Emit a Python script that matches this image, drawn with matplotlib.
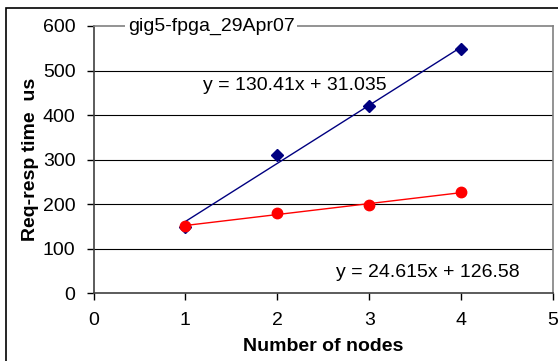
import numpy as np
import matplotlib
matplotlib.use("Agg")
import matplotlib.pyplot as plt
from matplotlib.patches import Rectangle

plt.rcParams["font.family"] = ["Liberation Sans", "DejaVu Sans"]

# ---------- data ------------------------------------------------------------
nodes = [1, 2, 3, 4]
fpga_us = [150.2, 310, 420, 548]      # navy diamonds
other_us = [151, 181, 198.5, 227]     # red circles
fpga_eq = "y = 130.41x + 31.035"
other_eq = "y = 24.615x + 126.58"
chart_title = "gig5-fpga_29Apr07"
x_ticks = [0, 1, 2, 3, 4, 5]
y_ticks = [0, 100, 200, 300, 400, 500, 600]

NAVY = "#000080"
RED = "#ff0000"
FS = 14

fig = plt.figure(figsize=(5.58, 3.61), dpi=100)
ax = fig.add_axes([0.1676, 0.187, 0.8235, 0.741])

# outer chart frame (clipped by the picture at right / bottom)
top = (361 - 8) / 361
fig.patches.append(Rectangle((6 / 558, -0.2), 2.0, top + 0.2,
                             transform=fig.transFigure, fill=False,
                             edgecolor="black", lw=1.2, zorder=0))

# gridlines
for v in y_ticks[1:-1]:
    ax.axhline(v, color="black", lw=0.8, zorder=1)

# trendlines
xs = np.array([nodes[0], nodes[-1]])
for ys, col in [(fpga_us, NAVY), (other_us, RED)]:
    k, b = np.polyfit(nodes, ys, 1)
    ax.plot(xs, k * xs + b, color=col, lw=1.0, zorder=2)

ax.plot(nodes, fpga_us, ls="none", marker="D", ms=6, color=NAVY, zorder=3)
ax.plot(nodes, other_us, ls="none", marker="o", ms=7.5, color=RED, zorder=4)

ax.set_xlim(0, 5)
ax.set_ylim(0, 600)
ax.set_xticks(x_ticks)
ax.set_yticks(y_ticks)
ax.tick_params(direction="out", length=5, width=1, labelsize=FS, pad=8)
ax.tick_params(axis="x", pad=8)

for s in ["top", "right"]:
    ax.spines[s].set_color("#808080")
    ax.spines[s].set_linewidth(1.2)
for s in ["left", "bottom"]:
    ax.spines[s].set_color("#404040")
    ax.spines[s].set_linewidth(1.2)

ax.set_xlabel("Number of nodes", fontsize=FS, fontweight="bold", labelpad=7)
ax.set_ylabel("Req-resp time  us", fontsize=FS, fontweight="bold", labelpad=3)

ax.text(0.075, 1.0, chart_title, transform=ax.transAxes, fontsize=FS,
        ha="left", va="center", zorder=5,
        bbox=dict(facecolor="white", edgecolor="none", pad=2))
ax.text(0.4385, 0.779, fpga_eq, transform=ax.transAxes, fontsize=FS,
        ha="center", va="center")
ax.text(0.728, 0.08, other_eq, transform=ax.transAxes, fontsize=FS,
        ha="center", va="center")

fig.savefig("out.png", dpi=100)
